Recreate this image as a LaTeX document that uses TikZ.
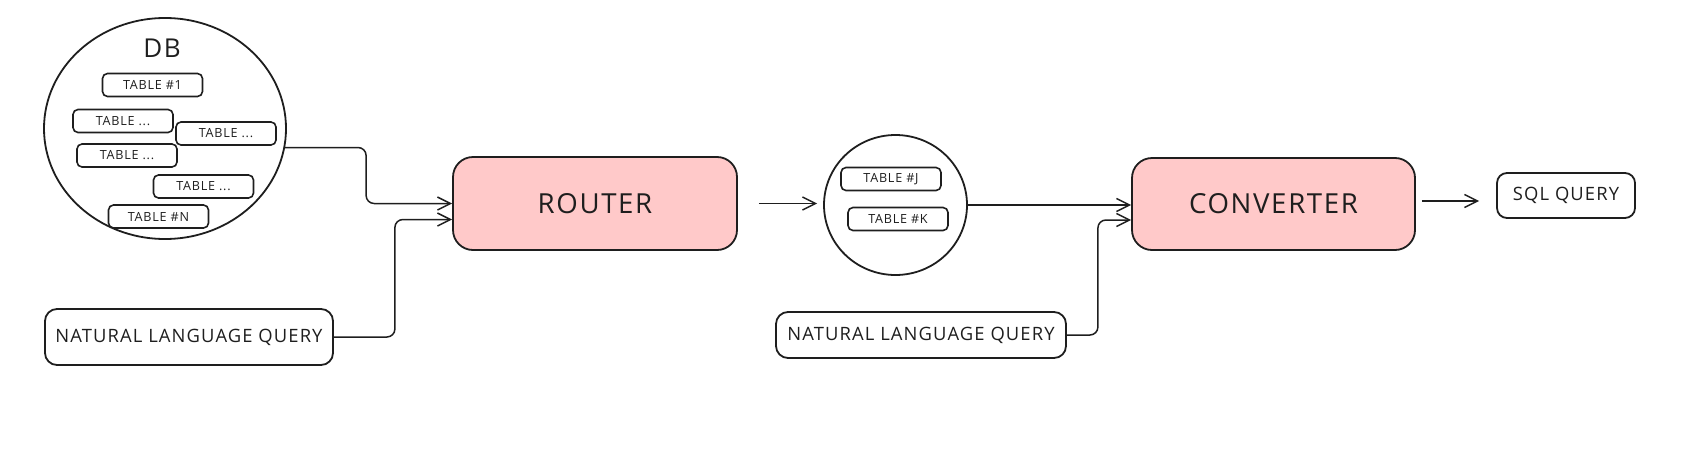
\documentclass[tikz,border=0pt]{standalone}
\usepackage{fontspec}
\setmainfont{Open Sans}[LetterSpace=6]
\usepackage{tikz}
\usetikzlibrary{arrows.meta, positioning, shapes.geometric}
\usepackage{xcolor}
\definecolor{inkline}{HTML}{1E1E1E}
\definecolor{pinkfill}{HTML}{FFC9C9}

\begin{document}
\begin{tikzpicture}[x=0.5pt, y=-0.5pt, inkline,
    tbl/.style={draw=inkline, line width=0.8pt, rounded corners=2.5pt, minimum width=50pt, minimum height=11.5pt, inner sep=0pt, font=\fontsize{6.3}{7}\selectfont},
    stage/.style={draw=inkline, line width=0.9pt, fill=pinkfill, rounded corners=10pt, minimum width=142pt, minimum height=46.5pt, font=\fontsize{13.8}{16}\selectfont},
    query/.style={draw=inkline, line width=0.9pt, rounded corners=6pt, inner sep=0pt, font=\fontsize{9.2}{11}\selectfont},
    blob/.style={draw=inkline, line width=0.9pt, ellipse, inner sep=0pt},
    conn/.style={draw=inkline, line width=0.75pt, rounded corners=4pt, -{Straight Barb[length=6.5pt, width=6.5pt]}}]
                \useasboundingbox (0,0) rectangle (1684,466);

                % Database
                \node[blob, minimum width=121pt, minimum height=110.5pt] (db) at (165,128.5) {};
                \node[font=\fontsize{13}{15}\selectfont] (dblabel) at (162,48) {DB};
                \node[tbl] (t1) at (152.5,85) {TABLE \#1};
                \node[tbl] (t2) at (123,121) {TABLE ...};
                \node[tbl] (t3) at (226,133.5) {TABLE ...};
                \node[tbl] (t4) at (127,155.5) {TABLE ...};
                \node[tbl] (t5) at (203.5,186.5) {TABLE ...};
                \node[tbl] (tn) at (158.5,216.5) {TABLE \#N};

                % Domande in linguaggio naturale
                \node[query, minimum width=144pt, minimum height=28pt] (nlq1) at (189,337) {NATURAL LANGUAGE QUERY};
                \node[query, minimum width=145pt, minimum height=23pt] (nlq2) at (921,335) {NATURAL LANGUAGE QUERY};

                % Router
                \node[stage] (router) at (595,203.5) {ROUTER};

                % Tabelle scelte
                \node[blob, minimum width=71.5pt, minimum height=70pt] (sel) at (895.5,205) {};
                \node[tbl] (tj) at (891,179) {TABLE \#J};
                \node[tbl] (tk) at (898,219) {TABLE \#K};

                % Converter
                \node[stage, minimum width=141.5pt, minimum height=46pt] (conv) at (1273.5,204) {CONVERTER};

                % Risultato
                \node[query, rounded corners=5pt, minimum width=69pt, minimum height=22.5pt] (sql) at (1566,195.5) {SQL QUERY};

                % Frecce
                \draw[conn] (db.-9) -- ++(81,0) |- (router.west);
                \draw[conn] (nlq1.east) -- ++(61,0) |- ([yshift=-8pt]router.west);
                \draw[conn, shorten <=10.5pt, shorten >=3pt] (router.east) -- (router.east -| sel.west);
                \draw[conn] (sel.east) -- (sel.east -| conv.west);
                \draw[conn] (nlq2.east) -- ++(31,0) |- ([yshift=-8pt]conv.west);
                \draw[conn, shorten <=3pt, shorten >=8.5pt] ([yshift=1.5pt]conv.east) -- ([yshift=1.5pt]conv.east -| sql.west);
            \end{tikzpicture}
\end{document}
